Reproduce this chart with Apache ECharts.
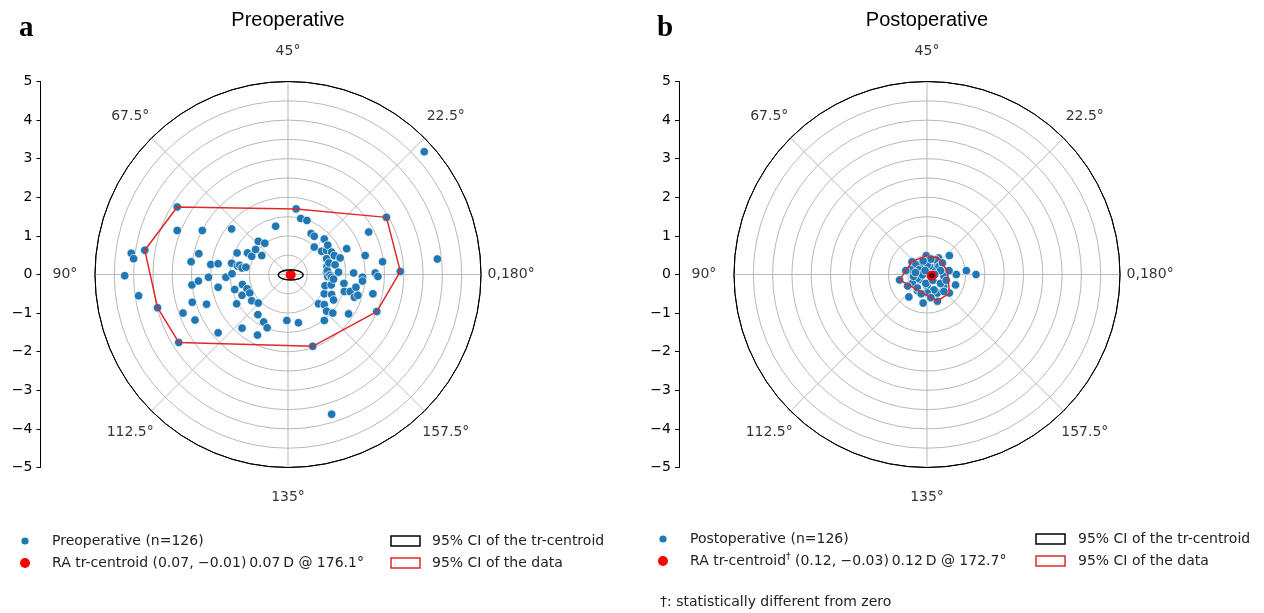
<!DOCTYPE html>
<html>
<head>
<meta charset="utf-8">
<title>Preoperative / Postoperative double-angle plots</title>
<script src="https://cdn.jsdelivr.net/npm/echarts@6/dist/echarts.min.js"></script>
<style>
html, body { margin: 0; padding: 0; background: #fff; }
#chart { width: 1264px; height: 613px; }
</style>
</head>
<body>
<div id="chart"></div>
<script>
/** 数据 (double-angle plot, x/y in D) */
// 术前散点
var prePoints = [
  [-4.23, -0.03], [-4.06, 0.55], [-4.00, 0.41], [-3.87, -0.55], [-3.71, 0.63], [-3.38, -0.86],
  [-2.87, 1.75], [-2.87, 1.14], [-2.83, -1.76], [-2.72, -1.00], [-2.51, 0.33], [-2.49, -0.27],
  [-2.48, -0.72], [-2.41, -1.18], [-2.32, -0.17], [-2.31, 0.54], [-2.22, 1.14], [-2.11, -0.77],
  [-2.06, -0.07], [-2.00, 0.26], [-1.81, 0.28], [-1.81, -0.33], [-1.81, -1.51], [-1.61, -0.07],
  [-1.46, 1.18], [-1.46, 0.29], [-1.45, 0.02], [-1.38, -0.39], [-1.33, -0.76], [-1.32, 0.56],
  [-1.31, 0.22], [-1.25, 0.24], [-1.19, 0.17], [-1.19, -1.39], [-1.19, -0.54], [-1.18, -0.26],
  [-1.09, 0.19], [-1.06, -0.37], [-1.05, 0.56], [-0.99, -0.48], [-0.94, 0.47], [-0.94, -0.68],
  [-0.84, 0.65], [-0.79, -1.57], [-0.78, -1.04], [-0.77, 0.86], [-0.77, -0.74], [-0.68, 0.49],
  [-0.63, -1.23], [-0.60, 0.81], [-0.54, -1.38], [-0.32, 1.25], [-0.03, -1.19],
  [0.21, 1.70], [0.33, 1.45], [0.49, 1.40], [0.27, -1.25], [0.60, 1.06], [0.68, 0.99],
  [0.68, 0.71], [0.64, -1.86], [0.79, -0.76], [0.87, 0.60], [0.94, 0.92], [0.94, -0.50],
  [0.94, -0.78], [0.94, -1.19], [0.96, -0.29], [1.00, 0.62], [1.00, 0.41], [1.00, 0.06],
  [1.00, -0.95], [1.01, 0.21], [1.02, 0.10], [1.03, 0.76], [1.03, -0.05], [1.06, 0.30],
  [1.09, -0.02], [1.12, -0.27], [1.13, 0.58], [1.13, -0.07], [1.13, -0.52], [1.13, -3.62],
  [1.16, -1.00], [1.18, -0.12], [1.18, -0.66], [1.20, 0.49], [1.22, 0.25], [1.31, 0.06],
  [1.35, 0.43], [1.45, -0.23], [1.46, -0.44], [1.52, 0.67], [1.57, -1.02], [1.61, -0.44],
  [1.70, 0.04], [1.72, -0.59], [1.76, -0.33], [1.81, -0.54], [1.93, -0.07], [1.93, -0.17],
  [2.00, 0.49], [2.09, 1.10], [2.20, -0.50], [2.26, 0.04], [2.30, -0.96], [2.33, -0.05],
  [2.45, 0.33], [2.55, 1.48], [2.91, 0.08], [3.53, 3.18], [3.87, 0.40]
];
// 95% CI of the data (红色多边形)
var preHull = [
  [-2.87, 1.75], [0.21, 1.70], [2.55, 1.48], [2.91, 0.08], [2.30, -0.96],
  [0.64, -1.86], [-2.83, -1.76], [-3.38, -0.86], [-3.71, 0.63]
];
var preCentroid = [0.07, -0.01];
var preCentroidCI = [0.07, -0.01, 0.32, 0.13]; // cx, cy, rx, ry

// 术后散点
var postPoints = [
  [0.58, 0.49], [1.02, 0.10], [1.27, 0.00], [0.76, 0.00], [0.74, -0.27], [0.58, -0.48],
  [0.27, -0.69], [-0.10, -0.74], [-0.47, -0.58], [-0.71, -0.14], [-0.39, 0.33], [-0.02, 0.49],
  [0.30, 0.43], [0.53, 0.09], [-0.22, 0.05], [-0.20, -0.13], [0.00, -0.29], [0.27, -0.48],
  [0.43, -0.30], [0.20, 0.17], [0.06, 0.22], [-0.12, 0.22], [-0.25, -0.42], [0.23, 0.38],
  [0.01, 0.26], [-0.29, 0.25], [-0.42, 0.12], [-0.21, 0.12], [-0.25, -0.10], [-0.12, -0.01],
  [-0.38, -0.23], [-0.03, -0.23], [0.35, -0.23], [0.44, -0.05], [0.31, 0.21], [-0.25, -0.35],
  [0.18, -0.40], [0.01, -0.48], [0.44, -0.44], [0.57, 0.10], [0.10, 0.40], [0.40, 0.30],
  [-0.10, 0.35], [0.15, -0.15], [0.35, 0.10], [-0.35, -0.05], [0.10, -0.60], [-0.15, -0.50],
  [0.50, -0.15], [-0.50, -0.30], [-0.30, 0.05], [0.20, 0.00], [-0.05, 0.10], [-0.55, 0.10]
];
var postHull = [
  [-0.71, -0.14], [-0.39, 0.33], [-0.02, 0.49], [0.30, 0.43], [0.53, 0.09],
  [0.58, -0.48], [0.27, -0.69]
];
var postCentroid = [0.12, -0.03];
var postCentroidCI = [0.12, -0.03, 0.05, 0.04];

// 角度刻度
var angleTicks = [0, 45, 90, 135, 180, 225, 270, 315];
var angleTickLabels = ['0,180°', '22.5°', '45°', '67.5°', '90°', '112.5°', '135°', '157.5°'];

// 文字
var panelTitles = ['Preoperative', 'Postoperative'];
var panelLetters = ['a', 'b'];
var pointNames = ['Preoperative (n=126)', 'Postoperative (n=126)'];
var centroidNames = [
  '{t|RA tr-centroid (0.07, \u22120.01)\u20090.07\u2009D @ 176.1°}',
  '{t|RA tr-centroid}{s|\u2020}{t| (0.12, \u22120.03)\u20090.12\u2009D @ 172.7°}'
];
var ciNames = ['95% CI of the tr-centroid', '95% CI of the data'];
var footnote = '\u2020: statistically different from zero';

/** 布局 */
var R = 193
var CY = 274.5
var panels = [
  {cx: 288, axisX: 40.5, points: prePoints, hull: preHull, centroid: preCentroid, ci: preCentroidCI,
   legendX: 25, legendTextX: 52, rectX: 391, ciTextX: 432, rowY: [541, 563]},
  {cx: 927, axisX: 679, points: postPoints, hull: postHull, centroid: postCentroid, ci: postCentroidCI,
   legendX: 663, legendTextX: 690, rectX: 1036, ciTextX: 1078, rowY: [539, 561]}
]

var BLUE = '#1f77b4'
var RED_HULL = '#e0282c'
var GRID_GRAY = '#b9b9b9'
var FONT = 'DejaVu Sans'

var ringColors = []
for (var k = 0; k < 10; k++) ringColors.push(GRID_GRAY)
ringColors.push('#000')

/** 椭圆 (custom series) */
var renderEllipse = function(params, api) {
  var c = api.coord([api.value(0), api.value(1)])
  var s = api.size([api.value(2), api.value(3)])
  var pts = []
  for (var i = 0; i < 64; i++) {
    var t = i / 64 * Math.PI * 2
    pts.push([c[0] + s[0] * Math.cos(t), c[1] + s[1] * Math.sin(t)])
  }
  return {
    type: 'polygon',
    shape: {points: pts},
    style: {fill: 'none', stroke: '#000', lineWidth: 1.5}
  }
}

var polar = [], angleAxis = [], radiusAxis = [], grid = [], xAxis = [], yAxis = [], series = [], graphic = []

panels.forEach(function(p, i) {
  polar.push({center: [p.cx, CY], radius: R})
  angleAxis.push({
    polarIndex: i, type: 'value', min: 0, max: 360, interval: 45, startAngle: 0, clockwise: false,
    axisLine: {show: true, lineStyle: {color: '#000', width: 1}},
    axisTick: {show: false}, axisLabel: {show: false},
    splitLine: {show: true, lineStyle: {color: GRID_GRAY, width: 1}}
  })
  radiusAxis.push({
    polarIndex: i, type: 'value', min: 0, max: 5, interval: 0.5,
    axisLine: {show: false}, axisTick: {show: false}, axisLabel: {show: false},
    splitLine: {show: true, lineStyle: {color: ringColors, width: 1}}
  })
  grid.push({left: p.cx - R, top: CY - R, width: 2 * R, height: 2 * R, outerBoundsMode: 'none'})
  xAxis.push({gridIndex: i, type: 'value', min: -5, max: 5, show: false})
  yAxis.push({
    gridIndex: i, type: 'value', min: -5, max: 5, interval: 1,
    offset: (p.cx - R) - p.axisX,
    axisLine: {show: true, onZero: false, lineStyle: {color: '#000', width: 1}},
    axisTick: {show: true, length: 4, lineStyle: {color: '#000', width: 1}},
    axisLabel: {
      color: '#000', fontFamily: FONT, fontSize: 14, margin: 8,
      formatter: function(v) { return v < 0 ? '\u2212' + Math.abs(v) : String(v) }
    },
    splitLine: {show: false}
  })

  // 散点
  series.push({
    type: 'scatter', xAxisIndex: i, yAxisIndex: i, data: p.points, symbolSize: 8.5, z: 3,
    itemStyle: {color: BLUE, borderColor: '#fff', borderWidth: 0.7, opacity: 1}
  })
  // 95% CI of the data
  series.push({
    type: 'line', xAxisIndex: i, yAxisIndex: i, data: p.hull.concat([p.hull[0]]),
    symbol: 'none', clip: false, z: 4, lineStyle: {color: RED_HULL, width: 1.5}
  })
  // 中心点
  series.push({
    type: 'scatter', xAxisIndex: i, yAxisIndex: i, data: [p.centroid], symbolSize: 10, z: 5,
    itemStyle: {color: '#ff0000', opacity: 1}
  })
  // 中心点 95% CI
  series.push({
    type: 'custom', xAxisIndex: i, yAxisIndex: i, data: [p.ci], z: 6, renderItem: renderEllipse
  })
  // 角度标签
  series.push({
    type: 'scatter', coordinateSystem: 'polar', polarIndex: i, clip: false, z: 2,
    symbolSize: 1, itemStyle: {color: 'transparent'},
    data: angleTicks.map(function(a) { return [5.78, a] }),
    label: {
      show: true, position: 'inside', color: '#000', fontFamily: FONT, fontSize: 14,
      formatter: function(prm) { return angleTickLabels[prm.dataIndex] }
    }
  })

  // 标题与字母
  graphic.push({type: 'text', x: p.cx, y: 20, style: {
    text: panelTitles[i], fontFamily: 'Liberation Sans', fontSize: 20, fill: '#000',
    align: 'center', verticalAlign: 'middle'}})
  graphic.push({type: 'text', x: p.legendX - 6, y: 29, style: {
    text: panelLetters[i], fontFamily: 'Liberation Serif', fontWeight: 'bold', fontSize: 29, fill: '#000',
    align: 'left', verticalAlign: 'middle'}})

  // 图例
  graphic.push({type: 'circle', shape: {cx: p.legendX, cy: p.rowY[0], r: 3.6}, style: {fill: BLUE}})
  graphic.push({type: 'circle', shape: {cx: p.legendX, cy: p.rowY[1], r: 5}, style: {fill: '#ff0000'}})
  graphic.push({type: 'text', x: p.legendTextX, y: p.rowY[0], style: {
    text: pointNames[i], fontFamily: FONT, fontSize: 14, fill: '#222', verticalAlign: 'middle'}})
  graphic.push({type: 'text', x: p.legendTextX, y: p.rowY[1], style: {
    text: centroidNames[i], fill: '#222', verticalAlign: 'middle',
    rich: {
      t: {fontFamily: FONT, fontSize: 14, fill: '#222'},
      s: {fontFamily: FONT, fontSize: 9, fill: '#222', padding: [0, 0, 8, 0]}
    }}})
  graphic.push({type: 'rect', shape: {x: p.rectX, y: p.rowY[0] - 5, width: 29, height: 10},
    style: {fill: 'none', stroke: '#000', lineWidth: 1.5}})
  graphic.push({type: 'rect', shape: {x: p.rectX, y: p.rowY[1] - 5, width: 29, height: 10},
    style: {fill: 'none', stroke: RED_HULL, lineWidth: 1.5}})
  graphic.push({type: 'text', x: p.ciTextX, y: p.rowY[0], style: {
    text: ciNames[0], fontFamily: FONT, fontSize: 14, fill: '#222', verticalAlign: 'middle'}})
  graphic.push({type: 'text', x: p.ciTextX, y: p.rowY[1], style: {
    text: ciNames[1], fontFamily: FONT, fontSize: 14, fill: '#222', verticalAlign: 'middle'}})
})

graphic.push({type: 'text', x: 660, y: 602, style: {
  text: footnote, fontFamily: FONT, fontSize: 14, fill: '#222', verticalAlign: 'middle'}})

var option = {
  animation: false,
  backgroundColor: '#fff',
  polar: polar,
  angleAxis: angleAxis,
  radiusAxis: radiusAxis,
  grid: grid,
  xAxis: xAxis,
  yAxis: yAxis,
  series: series,
  graphic: graphic
}

var myChart = echarts.init(document.getElementById('chart'))
myChart.setOption(option)
</script>
</body>
</html>
